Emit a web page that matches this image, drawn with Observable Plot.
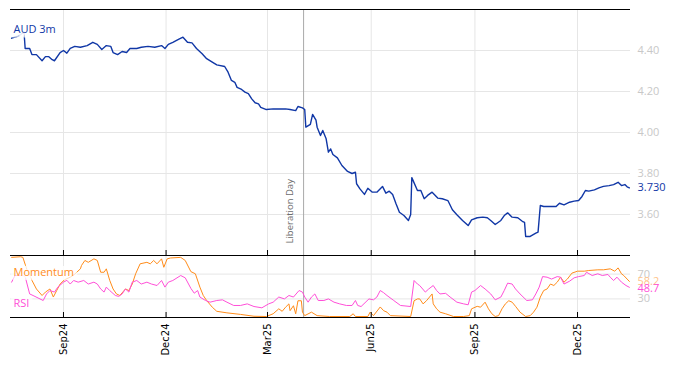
<!DOCTYPE html>
<html><head><meta charset="utf-8">
<script src="https://cdn.jsdelivr.net/npm/d3@7"></script>
<script src="https://cdn.jsdelivr.net/npm/@observablehq/plot@0.6"></script>
<style>
html,body{margin:0;padding:0;background:#fff;}
#chart{position:relative;width:674px;height:366px;overflow:hidden;}
#chart svg{position:absolute;left:0;}
</style></head><body><div id="chart"></div>
<script>
// ---- data ----
const seriesName = "AUD 3m";
const momName = "Momentum";
const rsiName = "RSI";
const eventDates = ["2025-04-02"];
const eventLabel = "Liberation Day";
const xStart = "2024-07-16";
const xEnd = "2026-01-17";
const xTickDates = ["2024-09-01","2024-12-01","2025-03-01","2025-06-01","2025-09-01","2025-12-01"];
const topDomain = [3.40, 4.60];
const topTicks = [3.60, 3.80, 4.00, 4.20, 4.40];
const lowDomain = [0, 100];
const lowTicks = [30, 70];

const audDates = ["2024-07-17","2024-07-23","2024-07-28","2024-07-29","2024-08-02","2024-08-04","2024-08-08","2024-08-13","2024-08-16","2024-08-19",
"2024-08-22","2024-08-24","2024-08-29","2024-09-01","2024-09-04","2024-09-07","2024-09-11","2024-09-16","2024-09-22","2024-09-27",
"2024-10-01","2024-10-05","2024-10-09","2024-10-13","2024-10-15","2024-10-19","2024-10-23","2024-10-27","2024-10-30","2024-11-05",
"2024-11-09","2024-11-15","2024-11-21","2024-11-27","2024-11-30","2024-12-03","2024-12-07","2024-12-12","2024-12-16","2024-12-20",
"2024-12-24","2024-12-28","2025-01-02","2025-01-06","2025-01-11","2025-01-15","2025-01-22","2025-01-25","2025-01-28","2025-01-31",
"2025-02-02","2025-02-06","2025-02-09","2025-02-12","2025-02-15","2025-02-18","2025-02-21","2025-02-23","2025-02-28","2025-03-06",
"2025-03-12","2025-03-17","2025-03-21","2025-03-26","2025-03-28","2025-04-01","2025-04-03","2025-04-04","2025-04-08","2025-04-10",
"2025-04-13","2025-04-14","2025-04-17","2025-04-19","2025-04-22","2025-04-24","2025-04-26","2025-04-28","2025-05-02","2025-05-06",
"2025-05-11","2025-05-15","2025-05-18","2025-05-19","2025-05-22","2025-05-26","2025-05-29","2025-06-02","2025-06-06","2025-06-11",
"2025-06-14","2025-06-17","2025-06-20","2025-06-23","2025-06-26","2025-06-30","2025-07-04","2025-07-06","2025-07-07","2025-07-12",
"2025-07-15","2025-07-18","2025-07-21","2025-07-25","2025-07-30","2025-08-03","2025-08-08","2025-08-12","2025-08-16","2025-08-21",
"2025-08-26","2025-08-29","2025-09-03","2025-09-08","2025-09-12","2025-09-15","2025-09-19","2025-09-24","2025-09-27","2025-09-30",
"2025-10-04","2025-10-09","2025-10-13","2025-10-15","2025-10-16","2025-10-20","2025-10-25","2025-10-27","2025-10-29","2025-11-01",
"2025-11-06","2025-11-12","2025-11-15","2025-11-19","2025-11-24","2025-11-28","2025-12-02","2025-12-05","2025-12-08","2025-12-11",
"2025-12-16","2025-12-20","2025-12-24","2025-12-29","2026-01-02","2026-01-06","2026-01-09","2026-01-12","2026-01-14","2026-01-16"];
const audValues = [4.46,4.47,4.49,4.41,4.41,4.38,4.38,4.35,4.37,4.37,
4.355,4.35,4.39,4.40,4.387,4.41,4.42,4.416,4.424,4.44,
4.43,4.405,4.424,4.42,4.39,4.38,4.395,4.39,4.41,4.41,
4.416,4.42,4.416,4.424,4.41,4.43,4.44,4.454,4.465,4.44,
4.437,4.41,4.384,4.36,4.343,4.33,4.322,4.294,4.254,4.245,
4.22,4.21,4.197,4.19,4.164,4.145,4.14,4.123,4.112,4.115,
4.115,4.115,4.112,4.107,4.127,4.12,4.112,4.026,4.04,4.088,
4.06,4.026,3.985,4.01,3.969,3.904,3.92,3.893,3.876,3.839,
3.81,3.80,3.806,3.75,3.725,3.698,3.728,3.709,3.709,3.737,
3.704,3.714,3.698,3.652,3.611,3.595,3.571,3.60,3.78,3.717,
3.717,3.677,3.693,3.709,3.68,3.677,3.668,3.623,3.599,3.571,
3.546,3.574,3.584,3.587,3.584,3.571,3.551,3.571,3.595,3.608,
3.587,3.584,3.567,3.562,3.493,3.493,3.509,3.514,3.644,3.639,
3.639,3.639,3.655,3.647,3.66,3.665,3.668,3.688,3.717,3.714,
3.72,3.73,3.737,3.741,3.746,3.757,3.741,3.746,3.735,3.730];

const momDates = ["2024-07-17","2024-07-25","2024-07-27","2024-07-30","2024-08-04","2024-08-08","2024-08-13","2024-08-16","2024-08-20","2024-08-23",
"2024-08-26","2024-08-29","2024-09-02","2024-09-07","2024-09-11","2024-09-16","2024-09-17","2024-09-20","2024-09-23","2024-09-28",
"2024-10-01","2024-10-04","2024-10-07","2024-10-09","2024-10-12","2024-10-15","2024-10-18","2024-10-21","2024-10-26","2024-10-29",
"2024-11-01","2024-11-04","2024-11-08","2024-11-14","2024-11-17","2024-11-20","2024-11-23","2024-11-27","2024-11-29","2024-12-02",
"2024-12-05","2024-12-14","2024-12-18","2024-12-23","2024-12-27","2024-12-31","2025-01-03","2025-01-06","2025-01-11","2025-01-15",
"2025-01-24","2025-02-05","2025-02-17","2025-02-28","2025-03-06","2025-03-11","2025-03-14","2025-03-17","2025-03-20","2025-03-21",
"2025-03-24","2025-03-26","2025-03-28","2025-03-31","2025-04-01","2025-04-03","2025-04-09","2025-04-14","2025-04-25","2025-05-13",
"2025-05-16","2025-05-18","2025-05-29","2025-05-31","2025-06-03","2025-06-09","2025-06-12","2025-06-15","2025-06-18","2025-07-06",
"2025-07-09","2025-07-12","2025-07-14","2025-07-17","2025-07-20","2025-07-25","2025-07-26","2025-07-29","2025-08-01","2025-08-06",
"2025-08-13","2025-08-22","2025-08-27","2025-08-29","2025-09-03","2025-09-06","2025-09-10","2025-09-13","2025-09-16","2025-09-19",
"2025-09-22","2025-09-25","2025-09-28","2025-10-01","2025-10-04","2025-10-07","2025-10-11","2025-10-16","2025-10-20","2025-10-23",
"2025-10-26","2025-10-29","2025-11-01","2025-11-04","2025-11-07","2025-11-10","2025-11-13","2025-11-16","2025-11-19","2025-11-22",
"2025-11-26","2025-12-01","2025-12-07","2025-12-11","2025-12-19","2025-12-24","2025-12-30","2026-01-03","2026-01-06","2026-01-09",
"2026-01-11","2026-01-14","2026-01-16"];
const momValues = [97,98,97,80,60,46,35.5,41,46,33,
43.5,54,61,65,70,78.5,84,92,89,94.6,
92,73,73,78.5,60,46,38,35.5,46,43.5,
54,70.5,86.6,89,86.6,92,86.6,94.6,81,94.6,
96,97,92,74,70.5,49,35.5,27.4,16.6,10,
7.5,5,2,1.6,6,14,10,16.6,22,11,
19,6,27,27,8.6,3,8.6,3,1.6,1.6,
6,1.6,1.6,8.6,3,17,11,8.6,3,1.6,
27,30,30,22,27,38,22,14,8.6,6,
1.6,1.6,3,14,18,16.6,24.7,14,6,1.6,
3,14,22,27,24.7,18,8.6,1.6,3,8.6,
16.6,33,43.5,46,54,51.6,57,65,57,62,
71.5,74.7,74.7,75.8,76.9,76.9,78.5,74.7,80,70.5,
67.7,62,58.2];

const rsiDates = ["2024-07-17","2024-07-20","2024-07-27","2024-07-29","2024-08-02","2024-08-05","2024-08-14","2024-08-17","2024-08-20","2024-08-24",
"2024-08-27","2024-09-01","2024-09-04","2024-09-07","2024-09-10","2024-09-14","2024-09-19","2024-09-23","2024-09-28","2024-10-01",
"2024-10-04","2024-10-07","2024-10-09","2024-10-12","2024-10-17","2024-10-20","2024-10-23","2024-10-26","2024-10-29","2024-11-01",
"2024-11-05","2024-11-09","2024-11-14","2024-11-18","2024-11-23","2024-11-27","2024-11-30","2024-12-03","2024-12-07","2024-12-14",
"2024-12-18","2024-12-23","2024-12-26","2024-12-29","2024-12-31","2025-01-05","2025-01-09","2025-01-15","2025-01-20","2025-01-24",
"2025-01-30","2025-02-05","2025-02-11","2025-02-17","2025-02-24","2025-03-02","2025-03-06","2025-03-11","2025-03-16","2025-03-20",
"2025-03-24","2025-03-29","2025-04-01","2025-04-03","2025-04-06","2025-04-09","2025-04-12","2025-04-15","2025-04-20","2025-04-24",
"2025-04-29","2025-05-04","2025-05-10","2025-05-15","2025-05-18","2025-05-20","2025-05-23","2025-05-30","2025-06-03","2025-06-06",
"2025-06-09","2025-06-12","2025-06-15","2025-06-21","2025-06-27","2025-07-06","2025-07-09","2025-07-12","2025-07-14","2025-07-19",
"2025-07-22","2025-07-26","2025-07-29","2025-08-01","2025-08-06","2025-08-10","2025-08-16","2025-08-22","2025-08-26","2025-08-29",
"2025-09-01","2025-09-06","2025-09-10","2025-09-15","2025-09-19","2025-09-24","2025-09-27","2025-09-30","2025-10-04","2025-10-07",
"2025-10-11","2025-10-17","2025-10-22","2025-10-25","2025-10-28","2025-10-31","2025-11-04","2025-11-08","2025-11-13","2025-11-16",
"2025-11-19","2025-11-24","2025-11-28","2025-12-02","2025-12-07","2025-12-09","2025-12-14","2025-12-19","2025-12-23","2025-12-28",
"2025-12-30","2026-01-02","2026-01-05","2026-01-09","2026-01-13","2026-01-16"];
const rsiValues = [57,67.7,67.7,66,38,35.5,27.4,38,43.5,41,
49,57,60,54,59.7,57,59.7,54,57,54,
46,41,49,43.5,35.5,34,38,46,41,57,
59.7,54,57,54,51.6,59.7,49,57,59.7,67.7,
64,47,39.2,43.5,33,27.4,24.7,27.4,28.5,24.7,
19.4,19.4,22,17.7,15.6,22,24.7,33,30,35.5,
33,43.5,41,33,24.7,33,38,27.4,27.4,30,
24.7,22,19.4,19.4,27.4,19.4,17.7,30,28.5,33,
43.5,40,35.5,27.4,19.4,17.7,59.7,54,51.6,41,
46,51.6,43.5,38,39,33,24.7,22,20.5,41,
43.5,51.6,46,38,28.5,33,43.5,55.4,54,46,
38,27.4,28.5,38,49,66,65,62,66,65,
54,58.6,64,66,67.7,73,67.7,70.5,67.7,69.4,
65,59.7,65,57,51.6,48.7];

// ---- build ----
const parse = d3.utcParse("%Y-%m-%d");
const toRows = (ds, vs) => ds.map((d, i) => ({date: parse(d), value: vs[i]}));
const aud = toRows(audDates, audValues);
const mom = toRows(momDates, momValues);
const rsi = toRows(rsiDates, rsiValues);
const events = eventDates.map(parse);
const xTicks = xTickDates.map(parse);
const xDomain = [parse(xStart), parse(xEnd)];

const blue = "#1037a6", orange = "#ff8c1a", magenta = "#ff4fd8";
const gridColor = "#e6e6e6", axisTextColor = "#c8c8c8";
const W = 674, ML = 10, MR = 44;
const lastAud = aud[aud.length - 1], lastMom = mom[mom.length - 1], lastRsi = rsi[rsi.length - 1];

const topPlot = Plot.plot({
  width: W, height: 260, marginTop: 9, marginBottom: 5, marginLeft: ML, marginRight: MR,
  style: {background: "transparent", fontFamily: "'Open Sans', sans-serif", fontSize: "11px", overflow: "visible"},
  x: {type: "utc", domain: xDomain, axis: null},
  y: {domain: topDomain, axis: null},
  marks: [
    Plot.gridX(xTicks, {stroke: gridColor, strokeOpacity: 1}),
    Plot.gridY(topTicks, {stroke: gridColor, strokeOpacity: 1}),
    Plot.axisY(topTicks, {anchor: "right", label: null, tickSize: 0, tickPadding: 7, tickFormat: d3.format(".2f"), color: axisTextColor, fontSize: 11}),
    Plot.ruleX(events, {x: d => d, stroke: "#aaaaaa", strokeWidth: 1}),
    Plot.text(events, {x: d => d, frameAnchor: "bottom", rotate: -90, textAnchor: "start", dx: -11, dy: -12, text: () => eventLabel, fill: "#6b6b6b", fontSize: 9.5}),
    Plot.lineY(aud, {x: "date", y: "value", stroke: blue, strokeWidth: 1.4}),
    Plot.text([seriesName], {text: d => d, frameAnchor: "top-left", dx: 3, dy: 16, textAnchor: "start", fill: blue, stroke: "white", strokeOpacity: 0.7, strokeWidth: 9, fontSize: 11}),
    Plot.text([lastAud], {y: "value", frameAnchor: "right", dx: 7, textAnchor: "start", text: d => d3.format(".3f")(d.value), fill: blue, fontSize: 11}),
    Plot.ruleY([topDomain[1]], {stroke: "black", strokeWidth: 1.2}),
    Plot.ruleY([topDomain[0]], {stroke: "black", strokeWidth: 1.2}),
    Plot.tickX(xTicks, {x: d => d, insetTop: 241, stroke: "black", strokeWidth: 1})
  ]
});
topPlot.style.top = "0px";

const lowPlot = Plot.plot({
  width: W, height: 116, marginTop: 5, marginBottom: 49, marginLeft: ML, marginRight: MR,
  style: {background: "transparent", fontFamily: "'Open Sans', sans-serif", fontSize: "11px", overflow: "visible"},
  x: {type: "utc", domain: xDomain, axis: null},
  y: {domain: lowDomain, axis: null},
  marks: [
    Plot.gridX(xTicks, {stroke: gridColor, strokeOpacity: 1}),
    Plot.gridY(lowTicks, {stroke: gridColor, strokeOpacity: 1}),
    Plot.axisY(lowTicks, {anchor: "right", label: null, tickSize: 0, tickPadding: 7, color: axisTextColor, fontSize: 11}),
    Plot.ruleX(events, {x: d => d, stroke: "#aaaaaa", strokeWidth: 1}),
    Plot.lineY(mom, {x: "date", y: "value", stroke: orange, strokeWidth: 1}),
    Plot.lineY(rsi, {x: "date", y: "value", stroke: magenta, strokeWidth: 1}),
    Plot.text([momName], {text: d => d, frameAnchor: "top-left", dx: 3, dy: 13, textAnchor: "start", fill: orange, stroke: "white", strokeOpacity: 0.7, strokeWidth: 8, fontSize: 11}),
    Plot.text([rsiName], {text: d => d, frameAnchor: "bottom-left", dx: 3, dy: -11, textAnchor: "start", fill: magenta, stroke: "white", strokeOpacity: 0.7, strokeWidth: 8, fontSize: 11}),
    Plot.text([lastMom], {y: "value", frameAnchor: "right", dx: 7, textAnchor: "start", text: d => d3.format(".1f")(d.value), fill: "#ffc48a", fontSize: 11}),
    Plot.text([lastRsi], {y: "value", frameAnchor: "right", dx: 7, dy: 1.5, textAnchor: "start", text: d => d3.format(".1f")(d.value), fill: magenta, fontSize: 11}),
    Plot.ruleY([lowDomain[0]], {stroke: "black", strokeWidth: 1.2}),
    Plot.tickX(xTicks, {x: d => d, insetTop: 57, stroke: "black", strokeWidth: 1}),
    Plot.axisX(xTicks, {anchor: "bottom", label: null, tickSize: 0, tickPadding: 6, tickRotate: -90, tickFormat: d3.utcFormat("%b%y"), color: "black", fontSize: 10, fontFamily: "DejaVu Sans"})
  ]
});
lowPlot.style.top = "250px";

const chart = document.getElementById("chart");
chart.appendChild(lowPlot);
chart.appendChild(topPlot);
</script></body></html>
